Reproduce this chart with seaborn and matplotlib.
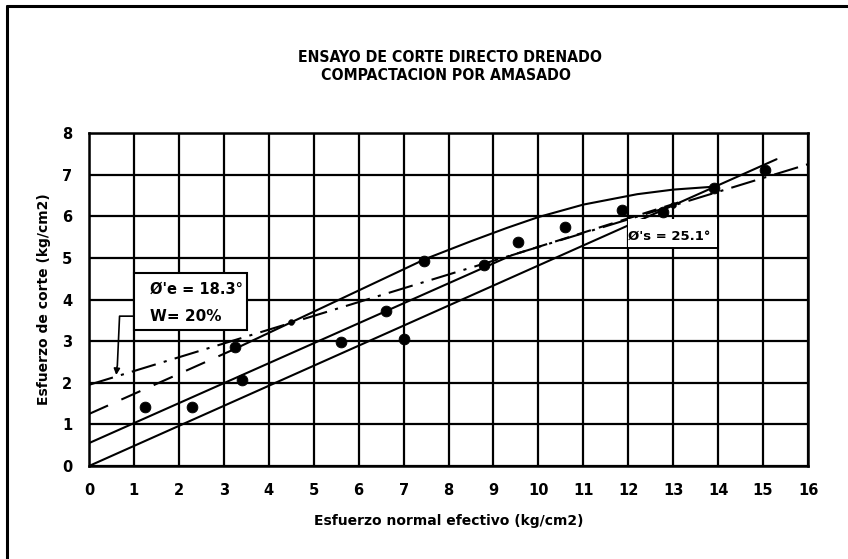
import matplotlib
matplotlib.use("Agg")
import matplotlib.pyplot as plt
from matplotlib.lines import Line2D
from matplotlib.patches import Rectangle
import numpy as np
import pandas as pd
import seaborn as sns

# Ensayos de corte directo: esfuerzo normal vs esfuerzo de corte (kg/cm2)
normal = [1.25, 2.3, 3.25, 3.4, 5.6, 6.6, 7.0, 7.45, 8.8, 9.55, 10.6, 11.85, 12.77, 13.9, 15.05]
corte = [1.42, 1.42, 2.85, 2.07, 2.97, 3.73, 3.05, 4.93, 4.82, 5.38, 5.74, 6.15, 6.1, 6.67, 7.1]

# puntos menores sobre la envolvente residual
normal_menor = [4.5, 13.0]
corte_menor = [3.45, 6.27]

# envolvente residual (phi'e = 18.3 grados)
res_x = [0.0, 16.0]
res_y = [1.95, 7.25]

# envolvente de pico, recta desde el origen
orig_x = [0.0, 15.3]
orig_y = [0.0, 7.37]

# recta intermedia
med_x = [0.0, 9.4]
med_y = [0.55, 5.06]
med2_x = [9.4, 13.2]
med2_y = [5.06, 6.36]

# envolvente curva superior
curva_x = [3.2, 7.5, 8.5, 9.3, 10.0, 11.0, 12.2, 13.0, 13.9]
curva_y = [2.79, 4.98, 5.4, 5.72, 5.98, 6.28, 6.53, 6.64, 6.71]
ext_x = [0.0, 3.2]
ext_y = [1.25, 2.79]

sns.set_style("white")
plt.rcParams["font.family"] = ["DejaVu Sans"]
plt.rcParams["text.color"] = "black"
plt.rcParams["axes.labelcolor"] = "black"
plt.rcParams["xtick.color"] = "black"
plt.rcParams["ytick.color"] = "black"

fig = plt.figure(figsize=(8.48, 5.59), dpi=100)
ax = fig.add_axes([89 / 848, 1 - 466 / 559, 719 / 848, 333 / 559])

ax.set_xlim(0, 16)
ax.set_ylim(0, 8)
ax.set_xticks(range(0, 17))
ax.set_yticks(range(0, 9))
ax.grid(True, color="black", linewidth=1.6)
ax.set_axisbelow(True)
for s in ax.spines.values():
    s.set_color("black")
    s.set_linewidth(1.8)
ax.tick_params(axis="both", direction="out", length=4, width=1.5, color="black",
               labelcolor="black", labelsize=10.5, pad=8)
for lab in ax.get_xticklabels() + ax.get_yticklabels():
    lab.set_fontweight("bold")

lw = 1.5
sns.lineplot(x=orig_x, y=orig_y, ax=ax, color="black", linewidth=lw)
sns.lineplot(x=med_x, y=med_y, ax=ax, color="black", linewidth=lw)
sns.lineplot(x=med2_x, y=med2_y, ax=ax, color="black", linewidth=lw, linestyle=(0, (7, 4)))
sns.lineplot(x=curva_x, y=curva_y, ax=ax, color="black", linewidth=lw)
sns.lineplot(x=ext_x, y=ext_y, ax=ax, color="black", linewidth=lw, linestyle=(0, (10, 7)))
sns.lineplot(x=res_x, y=res_y, ax=ax, color="black", linewidth=lw,
             linestyle=(0, (12, 4, 1.5, 4)))

sns.scatterplot(x=normal, y=corte, ax=ax, color="black", s=60, edgecolor="black", zorder=5)
sns.scatterplot(x=normal_menor, y=corte_menor, ax=ax, color="black", s=18, edgecolor="black", zorder=5)

# cuadro de la envolvente residual con flecha
ax.add_patch(Rectangle((1.0, 3.27), 2.52, 1.37, facecolor="white", edgecolor="black",
                       linewidth=1.5, zorder=6))
ax.text(1.35, 4.25, "Ø'e = 18.3°", fontsize=10.5, fontweight="bold", va="center",
        color="black", zorder=7)
ax.text(1.35, 3.6, "W= 20%", fontsize=11, fontweight="bold", va="center",
        color="black", zorder=7)
ax.plot([1.0, 0.68, 0.63], [3.6, 3.6, 2.4], color="black", linewidth=1.2, zorder=6)
ax.annotate("", xy=(0.6, 2.12), xytext=(0.63, 2.45),
            arrowprops=dict(arrowstyle="-|>", color="black", lw=1.2, mutation_scale=9), zorder=6)

# etiqueta de la envolvente de pico
ax.add_patch(Rectangle((12.0, 5.25), 1.98, 0.68, facecolor="white", edgecolor="none", zorder=4))
ax.plot([11.0, 14.0], [5.24, 5.24], color="black", linewidth=1.4, zorder=4)
ax.text(12.0, 5.52, "Ø's = 25.1°", fontsize=9.5, fontweight="bold", va="center",
        color="black", zorder=7)

ax.set_xlabel("Esfuerzo normal efectivo (kg/cm2)", fontsize=10, fontweight="bold",
              labelpad=12, color="black")
ax.set_ylabel("Esfuerzo de corte (kg/cm2)", fontsize=10, fontweight="bold",
              labelpad=8, color="black")

titulo_kw = dict(ha="center", va="center", fontsize=11.3, fontweight="bold",
                 fontstretch="condensed", color="black")
fig.text(450 / 848, 1 - 57 / 559, "ENSAYO DE CORTE DIRECTO DRENADO", **titulo_kw)
fig.text(446 / 848, 1 - 75 / 559, "COMPACTACION POR AMASADO", **titulo_kw)

# marco de la lámina
fig.add_artist(Line2D([7 / 848, 7 / 848], [0, 1 - 6 / 559], color="black", linewidth=2.2,
                      transform=fig.transFigure))
fig.add_artist(Line2D([7 / 848, 1], [1 - 6 / 559, 1 - 6 / 559], color="black", linewidth=2.2,
                      transform=fig.transFigure))

fig.savefig("out.png", dpi=100, facecolor="white")
